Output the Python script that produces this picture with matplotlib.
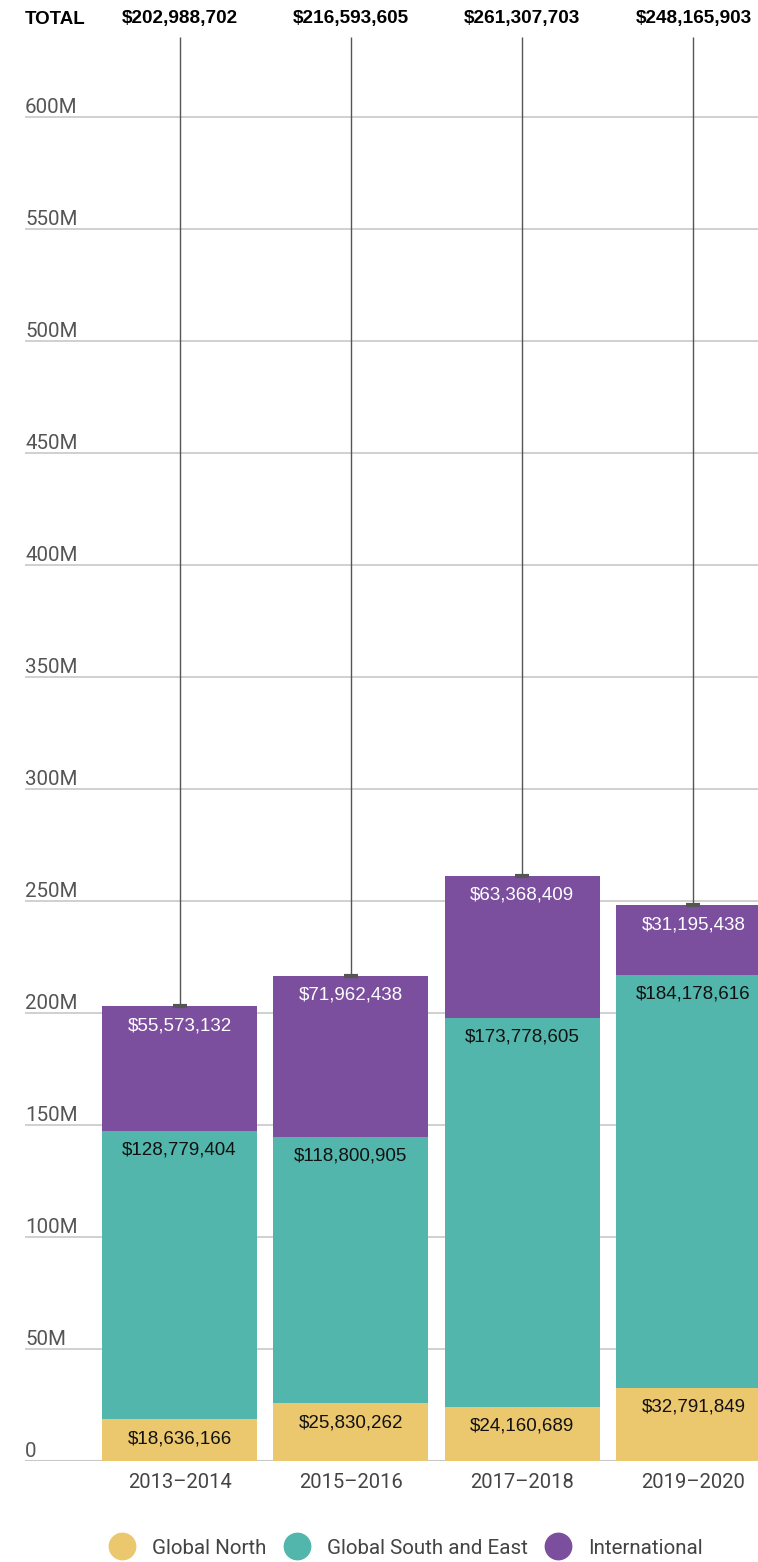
import matplotlib.pyplot as plt
import numpy as np

periods = ['2013–2014', '2015–2016', '2017–2018', '2019–2020']
global_north = [18636166, 25830262, 24160689, 32791849]
global_south_east = [128779404, 118800905, 173778605, 184178616]
international = [55573132, 71962438, 63368409, 31195438]
ytick_vals = [0, 50e6, 100e6, 150e6, 200e6, 250e6, 300e6, 350e6, 400e6, 450e6, 500e6, 550e6, 600e6]
ytick_labels = ['0', '50M', '100M', '150M', '200M', '250M', '300M', '350M', '400M', '450M', '500M', '550M', '600M']

C_NORTH = '#ebc76e'
C_SOUTH = '#52b6ac'
C_INTL = '#7b4f9e'

W, H = 758, 1562
fig = plt.figure(figsize=(W / 100, H / 100), dpi=100)
ax = fig.add_axes([25 / W, 101 / H, 733 / W, 1424 / H])

x = np.arange(len(periods))
north = np.array(global_north)
south = np.array(global_south_east)
intl = np.array(international)
totals = north + south + intl

bw = 0.905
ax.bar(x, north, width=bw, color=C_NORTH, zorder=2)
ax.bar(x, south, width=bw, bottom=north, color=C_SOUTH, zorder=2)
ax.bar(x, intl, width=bw, bottom=north + south, color=C_INTL, zorder=2)

ymax = 600e6 * 1424 / 1344
ax.set_ylim(0, ymax)
ax.set_xlim(-0.902, 3.377)

# leader lines from totals up to the header
ax.vlines(x, totals, ymax, color='#555555', lw=1, zorder=3)
ax.plot(x, totals, ls='none', marker='_', ms=10, mew=3, color='#555555', zorder=4)

# segment labels
lab_font = dict(fontsize=13.5, family=['Liberation Sans', 'DejaVu Sans'], ha='center', va='center')
for i in range(len(x)):
    ax.annotate(f'${north[i]:,}', (x[i], north[i]), xytext=(0, -14), textcoords='offset points',
                color='#111111', zorder=5, **lab_font)
    ax.annotate(f'${south[i]:,}', (x[i], north[i] + south[i]), xytext=(0, -14), textcoords='offset points',
                color='#111111', zorder=5, **lab_font)
    ax.annotate(f'${intl[i]:,}', (x[i], totals[i]), xytext=(0, -14), textcoords='offset points',
                color='white', zorder=5, **lab_font)

# grid and y labels
for v, lab in zip(ytick_vals, ytick_labels):
    ax.axhline(v, color='#c8c8c8', lw=1.5 if v == 0 else 1.2, zorder=1)
    ax.annotate(lab, (0, v), xycoords=('axes fraction', 'data'), xytext=(0, 0), textcoords='offset points',
                ha='left', va='bottom', fontsize=14.8, color='#555555', family=['Roboto', 'DejaVu Sans'])

ax.set_yticks([])
ax.set_xticks(x)
ax.set_xticklabels(periods, fontsize=14.5, color='#444444', family=['Roboto', 'DejaVu Sans'])
ax.tick_params(axis='x', length=0, pad=9)
for s in ax.spines.values():
    s.set_visible(False)

# header totals
fig.text(25 / W, 1 - 19 / H, 'TOTAL', fontsize=13.5, fontweight='bold', ha='left', va='center',
         family=['Liberation Sans', 'DejaVu Sans'])
for i in range(len(x)):
    ax.annotate(f'${totals[i]:,}', (x[i], 1), xycoords=('data', 'axes fraction'), xytext=(0, 13),
                textcoords='offset points', ha='center', va='center', fontsize=13.7, fontweight='bold',
                family=['Liberation Sans', 'DejaVu Sans'], annotation_clip=False)

# legend
handles = [plt.Line2D([], [], ls='none', marker='o', ms=19, color=c) for c in (C_NORTH, C_SOUTH, C_INTL)]
fig.legend(handles, ['Global North', 'Global South and East', 'International'], loc='center',
           bbox_to_anchor=(402 / W, 1 - 1548 / H), ncol=3, frameon=False, handletextpad=0.45,
           columnspacing=0.5, prop={'family': ['Roboto', 'DejaVu Sans'], 'size': 14.8}, labelcolor='#444444')

fig.savefig('out.png', dpi=100)
